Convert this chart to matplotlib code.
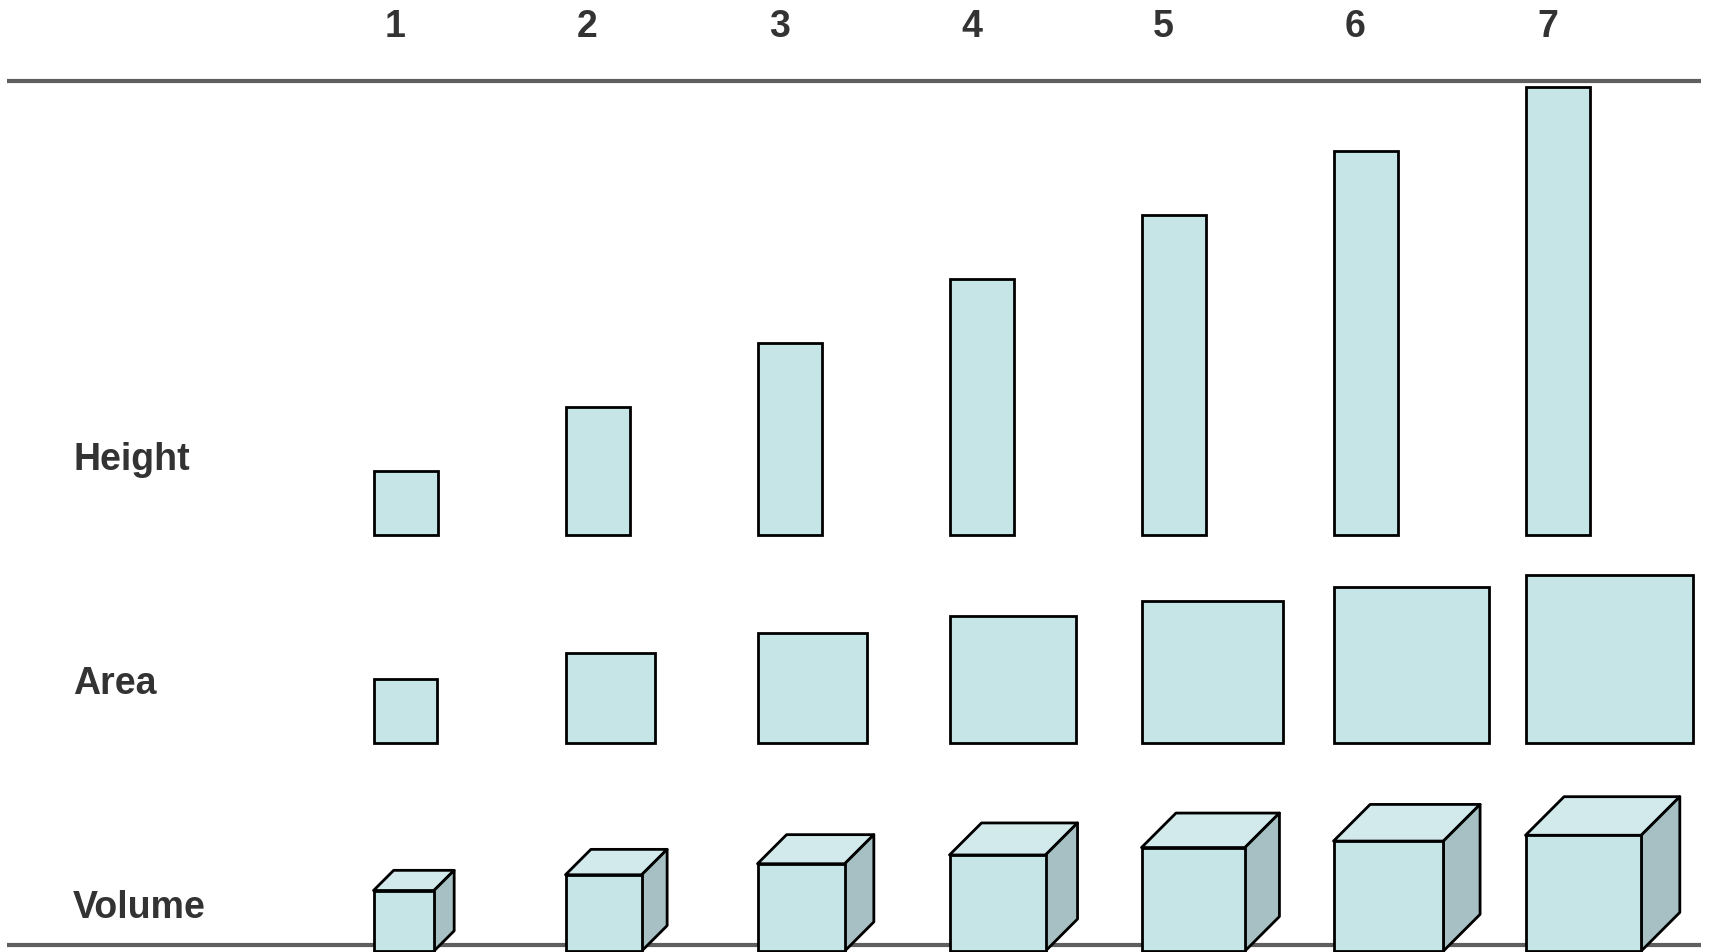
import numpy as np
import matplotlib
matplotlib.use("Agg")
import matplotlib.pyplot as plt
from matplotlib.patches import Rectangle, Polygon

# Values shown in each column
values = [1, 2, 3, 4, 5, 6, 7]
column_labels = ["1", "2", "3", "4", "5", "6", "7"]
row_labels = ["Height", "Area", "Volume"]

FACE = "#c5e5e7"
TOP = "#d2eaec"
SIDE = "#a7c0c3"
EDGE = "black"
TEXT = "#333333"
RULE = "#5f5f5f"

W, H = 1709, 952
fig = plt.figure(figsize=(W / 100, H / 100), dpi=100)
ax = fig.add_axes([0, 0, 1, 1])
ax.set_xlim(0, W)
ax.set_ylim(H, 0)
ax.axis("off")

unit = 64.0          # one value unit, as a bar height
area_unit = 63.4     # side of the unit square
cube_unit = 60.5     # side of the unit cube
col_x0 = 373.5       # left edge of the first column
col_step = 192.0
height_base = 535.0
area_base = 742.7
cube_base = 951.0
lw = 2.0

fam = ["Liberation Sans", "DejaVu Sans"]

# horizontal rules
ax.plot([7, 1701], [81, 81], color=RULE, lw=3.0, solid_capstyle="butt", zorder=1)
ax.plot([7, 1701], [944.5, 944.5], color=RULE, lw=3.0, solid_capstyle="butt", zorder=1)

for i, v in enumerate(values):
    x0 = col_x0 + i * col_step

    # height: bar with length proportional to value
    h = unit * v
    ax.add_patch(Rectangle((x0, height_base - h), unit, h, facecolor=FACE,
                           edgecolor=EDGE, lw=lw, zorder=3))

    # area: square with area proportional to value
    s = area_unit * np.sqrt(v)
    ax.add_patch(Rectangle((x0, area_base - s), s, s, facecolor=FACE,
                           edgecolor=EDGE, lw=lw, zorder=3))

    # volume: cube with volume proportional to value
    c = cube_unit * np.cbrt(v)
    d = c / 3.0
    top = cube_base - c
    ax.add_patch(Polygon([(x0, top), (x0 + d, top - d), (x0 + c + d, top - d),
                          (x0 + c, top)], closed=True, facecolor=TOP,
                         edgecolor=EDGE, lw=lw, joinstyle="round", zorder=3))
    ax.add_patch(Polygon([(x0 + c, top), (x0 + c + d, top - d),
                          (x0 + c + d, cube_base - d), (x0 + c, cube_base)],
                         closed=True, facecolor=SIDE, edgecolor=EDGE, lw=lw,
                         joinstyle="round", zorder=3))
    ax.add_patch(Rectangle((x0, top), c, c, facecolor=FACE, edgecolor=EDGE,
                           lw=lw, zorder=4))

    ax.text(395.5 + i * col_step, 27, column_labels[i], ha="center", va="center",
            fontsize=27, fontweight="bold", color=TEXT, family=fam)

for label, y in zip(row_labels, [460, 684.5, 908]):
    ax.text(73, y, label, ha="left", va="center", fontsize=27,
            fontweight="bold", color=TEXT, family=fam)

fig.savefig("out.png", dpi=100)
